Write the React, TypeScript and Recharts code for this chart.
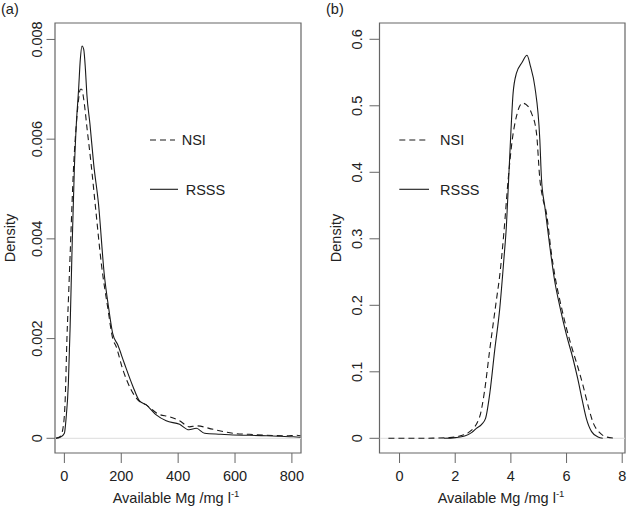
import React from 'react';
import { LineChart, Line, XAxis, YAxis, ReferenceArea, ReferenceLine } from 'recharts';

const FONT = '"Liberation Sans", Arial, Helvetica, sans-serif';
const TEXT = '#222';
const AXIS = '#666';
const INK = '#1a1a1a';

// Panel (a): available Mg (mg/l), density estimates
const aRsssMg = [-30, -12, 0, 6, 14, 20, 27, 35, 42, 50, 56, 62, 68, 74, 79, 90, 103, 120, 140, 156, 170, 188, 211, 241, 264, 288, 323, 358, 405, 438, 464, 493, 550, 593, 650, 711, 760, 805, 830];
const aRsssDensity = [0, 0.00003, 0.0001, 0.0004, 0.0011, 0.0022, 0.0038, 0.0054, 0.0063, 0.007, 0.0076, 0.00787, 0.0078, 0.0074, 0.0069, 0.0063, 0.0055, 0.0047, 0.0033, 0.0026, 0.0021, 0.00187, 0.0015, 0.00104, 0.00075, 0.00067, 0.00047, 0.00035, 0.00028, 0.00017, 0.0002, 0.0001, 0.00008, 0.000066, 0.00006, 0.00005, 0.00004, 0.00003, 0.00002];
const aNsiMg = [-30, -15, -5, 3, 9, 15, 21, 32, 42, 50, 56, 61, 68, 80, 94, 110, 130, 153, 170, 182, 206, 235, 258, 288, 329, 370, 405, 440, 464, 523, 593, 650, 711, 780, 817, 830];
const aNsiDensity = [0, 0.00003, 0.0002, 0.0008, 0.002, 0.0029, 0.0038, 0.0054, 0.0063, 0.0068, 0.007, 0.007, 0.0068, 0.0062, 0.0055, 0.0046, 0.0035, 0.0026, 0.002, 0.00184, 0.00137, 0.00097, 0.00077, 0.00067, 0.00049, 0.00043, 0.00035, 0.00023, 0.00025, 0.00018, 0.0001, 0.00008, 0.00006, 0.00005, 0.00006, 0.00005];
const aXTicks = [0, 200, 400, 600, 800];
const aYTicks = [0, 0.002, 0.004, 0.006, 0.008];

// Panel (b): transformed available Mg
const bRsssMg = [1.6, 2.0, 2.34, 2.6, 2.76, 2.95, 3.09, 3.25, 3.42, 3.6, 3.75, 3.84, 3.92, 4.0, 4.08, 4.2, 4.4, 4.58, 4.7, 4.86, 5.04, 5.1, 5.22, 5.4, 5.58, 5.75, 6.0, 6.23, 6.4, 6.55, 6.71, 6.9, 7.13, 7.3];
const bRsssDensity = [0, 0.001, 0.0035, 0.009, 0.015, 0.021, 0.03, 0.07, 0.133, 0.195, 0.27, 0.32, 0.39, 0.46, 0.519, 0.549, 0.565, 0.576, 0.56, 0.529, 0.449, 0.39, 0.348, 0.288, 0.235, 0.2, 0.155, 0.12, 0.09, 0.06, 0.03, 0.01, 0.002, 0];
const bNsiMg = [-0.4, 0.5, 1.2, 1.8, 2.16, 2.52, 2.88, 3.05, 3.24, 3.48, 3.6, 3.75, 3.9, 4.05, 4.2, 4.41, 4.6, 4.74, 4.92, 5.04, 5.15, 5.28, 5.45, 5.6, 5.8, 6.0, 6.2, 6.4, 6.6, 6.8, 6.95, 7.2, 7.43, 7.8];
const bNsiDensity = [0, 0, 0.0003, 0.001, 0.0035, 0.01, 0.0325, 0.07, 0.133, 0.208, 0.245, 0.31, 0.388, 0.449, 0.484, 0.504, 0.5, 0.489, 0.459, 0.39, 0.36, 0.338, 0.28, 0.24, 0.2, 0.165, 0.135, 0.108, 0.078, 0.045, 0.024, 0.008, 0.002, 0];
const bXTicks = [0, 2, 4, 6, 8];
const bYTicks = [0, 0.1, 0.2, 0.3, 0.4, 0.5, 0.6];

const seriesNames = ['NSI', 'RSSS'];
const panelLabels = ['(a)', '(b)'];
const axisTitleX = 'Available Mg /mg l';
const axisTitleY = 'Density';

const toData = (xs: number[], ys: number[]) => xs.map((x, i) => ({ x, y: ys[i] }));

const makeXTick = () => (props: any) => {
  const { x, payload } = props;
  return (
    <text x={x} y={480.5} textAnchor="middle" fontSize={14.5} fill={TEXT} fontFamily={FONT}>
      {String(payload.value)}
    </text>
  );
};

const makeYTick = (bx: number) => (props: any) => {
  const { y, payload } = props;
  return (
    <text
      x={bx}
      y={y}
      transform={`rotate(-90 ${bx} ${y})`}
      textAnchor="middle"
      fontSize={14.5}
      fill={TEXT}
      fontFamily={FONT}
    >
      {String(payload.value)}
    </text>
  );
};

type PanelProps = {
  width: number;
  left: number;
  yAxisWidth: number;
  marginRight: number;
  xDomain: [number, number];
  yDomain: [number, number];
  xTicks: number[];
  yTicks: number[];
  yTickSize: number;
  yLabelX: number;
  nsi: { x: number; y: number }[];
  rsss: { x: number; y: number }[];
};

const Panel = (p: PanelProps) => (
  <div style={{ position: 'absolute', left: p.left, top: 0 }}>
    <LineChart width={p.width} height={506} margin={{ top: 23, right: p.marginRight, bottom: 0, left: 0 }}>
      <XAxis
        type="number"
        dataKey="x"
        domain={p.xDomain}
        ticks={p.xTicks}
        allowDataOverflow
        height={53}
        axisLine={false}
        tickSize={10}
        tickLine={{ stroke: AXIS }}
        tick={makeXTick()}
      />
      <YAxis
        type="number"
        dataKey="y"
        domain={p.yDomain}
        ticks={p.yTicks}
        allowDataOverflow
        width={p.yAxisWidth}
        axisLine={false}
        tickSize={p.yTickSize}
        tickLine={{ stroke: AXIS }}
        tick={makeYTick(p.yLabelX)}
      />
      <ReferenceLine y={0} stroke="#dcdcdc" strokeWidth={1} />
      <ReferenceArea
        x1={p.xDomain[0]}
        x2={p.xDomain[1]}
        y1={p.yDomain[0]}
        y2={p.yDomain[1]}
        fill="none"
        fillOpacity={0}
        stroke={AXIS}
        strokeWidth={1.2}
        ifOverflow="visible"
      />
      <Line
        data={p.nsi}
        dataKey="y"
        type="monotone"
        stroke={INK}
        strokeWidth={1.1}
        strokeDasharray="6 4"
        dot={false}
        isAnimationActive={false}
      />
      <Line
        data={p.rsss}
        dataKey="y"
        type="monotone"
        stroke={INK}
        strokeWidth={1.1}
        dot={false}
        isAnimationActive={false}
      />
    </LineChart>
  </div>
);

const LegendBlock = ({ x0, x1, tNsi, tRsss }: { x0: number; x1: number; tNsi: number; tRsss: number }) => (
  <g>
    <line x1={x0} x2={x1} y1={140} y2={140} stroke={INK} strokeWidth={1.1} strokeDasharray="6 4" />
    <text x={tNsi} y={145.2} fontSize={14.5} fill={TEXT} fontFamily={FONT}>{seriesNames[0]}</text>
    <line x1={x0} x2={x1 + 3} y1={189.3} y2={189.3} stroke={INK} strokeWidth={1.1} />
    <text x={tRsss} y={194.5} fontSize={14.5} fill={TEXT} fontFamily={FONT}>{seriesNames[1]}</text>
  </g>
);

const XTitle = ({ cx }: { cx: number }) => (
  <text x={cx} y={502.5} textAnchor="middle" fontSize={14.5} fill={TEXT} fontFamily={FONT}>
    {axisTitleX}
    <tspan fontSize={9.5} dy={-6}>-1</tspan>
  </text>
);

const YTitle = ({ bx }: { bx: number }) => (
  <text x={bx} y={238} transform={`rotate(-90 ${bx} 238)`} textAnchor="middle" fontSize={14.5} fill={TEXT} fontFamily={FONT}>
    {axisTitleY}
  </text>
);

export default function App() {
  return (
    <div style={{ position: 'absolute', left: 0, top: 0, width: 627, height: 506, background: '#fff', overflow: 'hidden' }}>
      <Panel
        width={310}
        left={0}
        yAxisWidth={55}
        marginRight={9}
        xDomain={[-33, 832]}
        yDomain={[-0.000295, 0.00833]}
        xTicks={aXTicks}
        yTicks={aYTicks}
        yTickSize={8.5}
        yLabelX={41.7}
        nsi={toData(aNsiMg, aNsiDensity)}
        rsss={toData(aRsssMg, aRsssDensity)}
      />
      <Panel
        width={317}
        left={310}
        yAxisWidth={69.5}
        marginRight={2}
        xDomain={[-0.72, 8.1]}
        yDomain={[-0.0221, 0.6245]}
        xTicks={bXTicks}
        yTicks={bYTicks}
        yTickSize={10}
        yLabelX={51.7}
        nsi={toData(bNsiMg, bNsiDensity)}
        rsss={toData(bRsssMg, bRsssDensity)}
      />
      <svg width={627} height={506} style={{ position: 'absolute', left: 0, top: 0, pointerEvents: 'none' }}>
        <text x={1} y={13.7} fontSize={14.5} fill={TEXT} fontFamily={FONT}>{panelLabels[0]}</text>
        <text x={326} y={13.7} fontSize={14.5} fill={TEXT} fontFamily={FONT}>{panelLabels[1]}</text>
        <LegendBlock x0={150} x1={175} tNsi={181.7} tRsss={185.7} />
        <LegendBlock x0={399.3} x1={426} tNsi={440} tRsss={440} />
        <XTitle cx={176} />
        <XTitle cx={501} />
        <YTitle bx={15} />
        <YTitle bx={340.7} />
      </svg>
    </div>
  );
}
